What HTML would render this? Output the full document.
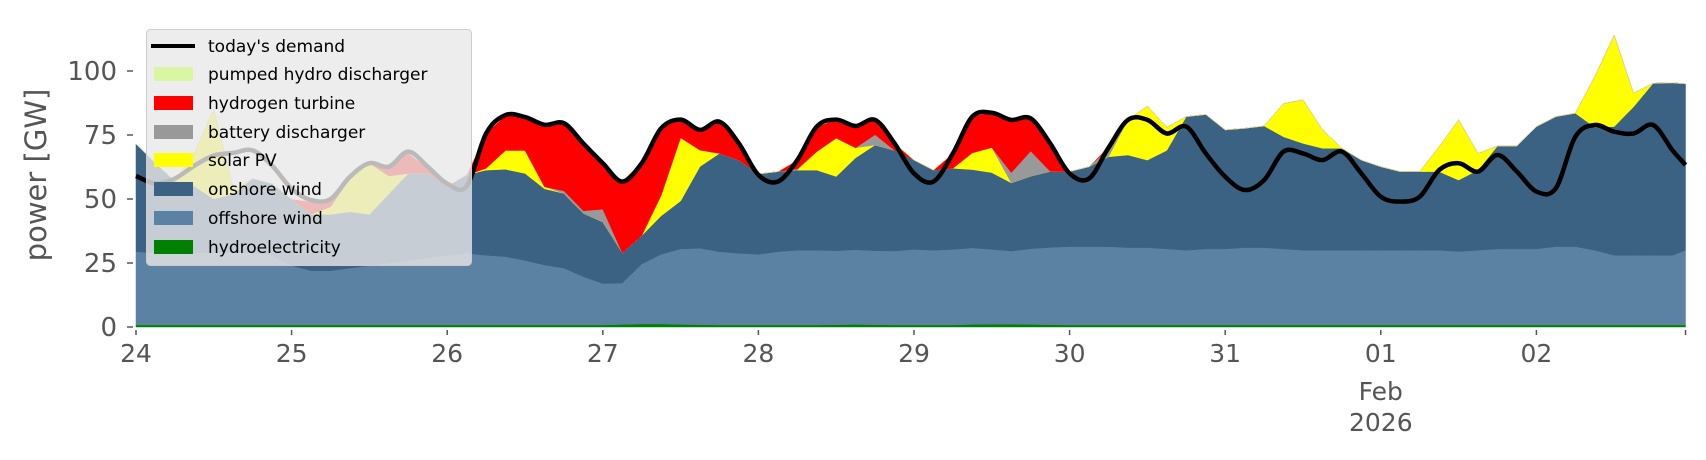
<!DOCTYPE html>
<html><head><meta charset="utf-8"><style>
html,body{margin:0;padding:0;background:#fff}
svg{display:block;font-family:"DejaVu Sans","Liberation Sans",sans-serif}
</style></head><body>
<svg id="chart" width="1706" height="460" viewBox="0 0 1706 460">
<g id="areas"></g>
<g id="axes"></g>
<g id="legend"></g>
</svg>
<script>
const hours = [0,3,6,9,12,15,18,21,24,27,30,33,36,39,42,45,48,51,54,57,60,63,66,69,72,75,78,81,84,87,90,93,96,99,102,105,108,111,114,117,120,123,126,129,132,135,138,141,144,147,150,153,156,159,162,165,168,171,174,177,180,183,186,189,192,195,198,201,204,207,210,213,216,219,222,225,228,231,234,237,239];
const hydro = [0.8,0.8,0.8,0.8,0.8,0.8,0.8,0.8,0.8,0.8,0.8,0.8,0.8,0.8,0.8,0.8,0.8,0.8,0.8,0.8,0.8,0.8,0.8,0.8,0.8,1.0,1.2,1.2,1.0,0.9,0.8,0.8,0.8,0.8,0.8,0.8,0.9,1.0,0.9,0.8,0.8,0.8,0.8,1.0,1.1,1.1,1.0,0.9,0.8,0.8,0.8,0.8,0.8,0.8,0.8,0.8,0.8,0.8,0.8,0.8,0.8,0.8,0.8,0.8,0.8,0.8,0.8,0.8,0.8,0.8,0.8,0.8,0.8,0.8,0.8,0.8,0.8,0.8,0.8,0.8,0.8];
const offshore = [28.6,28.2,28.2,28.2,28.2,28.2,28.2,27.2,23.2,21.2,21.2,22.2,23.2,24.2,25.2,26.2,27.2,28,27.2,26.7,25.2,23.4,22.2,18.9,16.2,16.2,23.4,27.2,29.5,29.9,28.6,28,27.6,28.6,29.2,29.2,28.9,29.2,28.9,28.9,29.5,29.2,29.5,29.9,29.2,28.6,29.6,30.2,30.6,30.6,30.6,30.2,30.2,29.7,29.2,29.7,29.7,30.2,30.2,29.7,29.2,29.2,29.2,29.2,29.2,29.2,29.2,29.2,28.7,29.2,29.7,29.7,29.7,30.6,30.6,29.2,27.2,27.2,27.2,27.2,29.2];
const onshore = [42.1,35,28,26,21,23,29,28,26,22,22,22,20,27,34,33,27,30.6,33.3,34.1,34,29.8,29.2,24.7,24,11.8,11.1,15,18.7,31.9,38.4,36.4,31.4,31.3,31.3,31.3,29,35.9,41.3,39.3,34.9,31.3,31.7,30.6,30,26.6,28.3,29.7,29.3,31.2,35.1,36.2,34.2,38.5,52.2,52.5,46.5,46.6,47.5,43.8,41.7,39.8,39.8,35.2,32.6,30.7,30.7,30.7,27.9,31.3,40.2,40.2,47.8,50.8,52.1,48,50.3,58,67.2,67.4,65];
const solar = [0,0,0,13,35,2,0,0,0,0,3,13,20,7,0,0,0,0,0.7,7.4,9,0.8,0,0,0,0,0,8,24.7,6.4,0,0,0,0,0,7.2,15,3.9,0,0,0,0,0,6.5,9.8,0,0,0,0,0,0,13.7,21.1,9,0,0,0,0,0,13,17,7.2,0,0,0,0,0,9.7,23.5,6.5,0,0,0,0,0,19.8,35.7,5.3,0,0,0];
const battery = [0,0,0,0,0,0,0,0,0,0,0,0,0,0,0,0,0,0,0,0,0,0,1,1,5,0,0,0,0,0,0,0,0,0,0.5,0,0,0,4,0,0,0,0,0,0,4,9.8,0,0,0,3,0,0,0,0,0,0,0,0,0,0,0,0,0,0,0,0,0,0,0,0,0,0,0,0,0,0,0,0,0,0];
const hydrogen = [0,0,0,0,0,0,0,0,0,5,3,1,0,4,8,2,0,0,13.6,13.8,13,24.2,26.4,26.3,18,28,28.7,26.6,7.3,8,12.4,6.5,0,0,3.4,9.8,7.3,8.7,5.9,2.7,0,0,5.8,14.4,13.9,20.9,13,11,0,0,1,0,0,0,0,0,0,0,0,0,0,0,0,0,0,0,0,0,0,0,0,0,0,0,0,0,0,0,0,0,0];
const pumped = hours.map(()=>0);
const demand = [59,56,58,63,67,68,69,63,54,49.6,50,58.7,64,62.6,68.5,62.6,56,55,75.6,82.8,82,79,79.6,71.7,64,56.8,64,77.6,81,77,80.2,71.7,59.4,56.8,65.2,78.3,81,78.5,80.9,71.7,60,56.8,67.8,82.2,83.7,80.9,81.5,71.7,60,58,70,80.9,80.9,75.6,78.3,67.8,58.7,53.5,57.4,68.5,67.8,65.2,68.5,60,50.9,49,50.9,61.3,64,60.7,67.2,60.7,52.9,54.2,74.3,78.9,76.3,75.6,78.9,69,63.3];
const yTicks = [0,25,50,75,100];
const xTickLabels = ["24","25","26","27","28","29","30","31","01","02"];

const NS="http://www.w3.org/2000/svg";
const X0=136, DAY=155.6, Y0=327, PXGW=2.56;
function xs(h){return X0+h*DAY/24;}
function ys(v){return Y0-v*PXGW;}
function mk(tag,attrs,parent){const e=document.createElementNS(NS,tag);for(const k in attrs)e.setAttribute(k,attrs[k]);parent.appendChild(e);return e;}

const areas=document.getElementById('areas');
const series=[["hydroelectricity",hydro,"#008000"],["offshore-wind",offshore,"#5b82a2"],["onshore-wind",onshore,"#3c6283"],["solar-pv",solar,"#ffff00"],["battery-discharger",battery,"#999999"],["hydrogen-turbine",hydrogen,"#ff0000"],["pumped-hydro",pumped,"#d9f7a3"]];
let base=hours.map(()=>0);
series.forEach(s=>{
  const top=base.map((b,i)=>b+s[1][i]);
  let d="M"+hours.map((h,i)=>xs(h).toFixed(1)+","+ys(top[i]).toFixed(1)).join("L");
  for(let i=hours.length-1;i>=0;i--) d+="L"+xs(hours[i]).toFixed(1)+","+ys(base[i]).toFixed(1);
  d+="Z";
  const p=mk('path',{d:d,fill:s[2],stroke:s[2],'stroke-width':0.5},areas);
  
  
  base=top;
});
// smooth demand curve (Catmull-Rom through the data points)
const pts=hours.map((h,i)=>[xs(h),ys(demand[i])]);
let dd="M"+pts[0][0].toFixed(1)+","+pts[0][1].toFixed(1);
for(let i=0;i<pts.length-1;i++){
  const p0=pts[Math.max(0,i-1)],p1=pts[i],p2=pts[i+1],p3=pts[Math.min(pts.length-1,i+2)];
  const c1=[p1[0]+(p2[0]-p0[0])/6,p1[1]+(p2[1]-p0[1])/6];
  const c2=[p2[0]-(p3[0]-p1[0])/6,p2[1]-(p3[1]-p1[1])/6];
  dd+="C"+c1[0].toFixed(1)+","+c1[1].toFixed(1)+" "+c2[0].toFixed(1)+","+c2[1].toFixed(1)+" "+p2[0].toFixed(1)+","+p2[1].toFixed(1);
}
const dl=mk('path',{d:dd,fill:"none",stroke:"#000","stroke-width":4.5,"stroke-linejoin":"round"},areas);



const axes=document.getElementById('axes');
yTicks.forEach(v=>{
  const t=mk('line',{x1:127,x2:133,y1:ys(v),y2:ys(v),stroke:"#555","stroke-width":1.5},axes);
  
  
  const l=mk('text',{x:117,y:ys(v)+9,"text-anchor":"end","font-size":26,fill:"#555"},axes);
  l.textContent=v;
  
  
});
xTickLabels.forEach((lab,i)=>{
  const x=xs(i*24);
  const t=mk('line',{x1:x,x2:x,y1:330,y2:335,stroke:"#555","stroke-width":1.5},axes);
  
  
  const l=mk('text',{x:x,y:362,"text-anchor":"middle","font-size":25,fill:"#555"},axes);
  l.textContent=lab;
  
  
});
const endTick=mk('line',{x1:xs(239),x2:xs(239),y1:330,y2:335,stroke:"#555","stroke-width":1.5},axes);


const feb=mk('text',{x:xs(192),y:400,"text-anchor":"middle","font-size":25,fill:"#555"},axes);
feb.textContent="Feb";


const yr=mk('text',{x:xs(192),y:431,"text-anchor":"middle","font-size":25,fill:"#555"},axes);
yr.textContent="2026";


const yl=mk('text',{x:0,y:0,"text-anchor":"middle","font-size":29,fill:"#555",transform:"translate(46,175) rotate(-90)"},axes);
yl.textContent="power [GW]";



const lg=document.getElementById('legend');
const box=mk('rect',{x:146.5,y:29.5,width:325,height:236,rx:4,fill:"rgba(232,232,232,0.8)",stroke:"#cccccc"},lg);


const entries=[["today's demand","line","#000"],["pumped hydro discharger","patch","#d9f7a3"],["hydrogen turbine","patch","#ff0000"],["battery discharger","patch","#999999"],["solar PV","patch","#ffff00"],["onshore wind","patch","#3c6283"],["offshore wind","patch","#5b82a2"],["hydroelectricity","patch","#008000"]];
const ly=[46,74,103,132,160,189,218,247];
entries.forEach((e,i)=>{
  const g=mk('g',{},lg);
  
  
  if(e[1]==="line") mk('line',{x1:151,x2:195,y1:ly[i],y2:ly[i],stroke:e[2],"stroke-width":4},g);
  else mk('rect',{x:154,y:ly[i]-7,width:39,height:14,fill:e[2]},g);
  const t=mk('text',{x:208,y:ly[i]+6,"font-size":17,fill:"#000"},g);
  t.textContent=e[0];
});
</script>
</body></html>
